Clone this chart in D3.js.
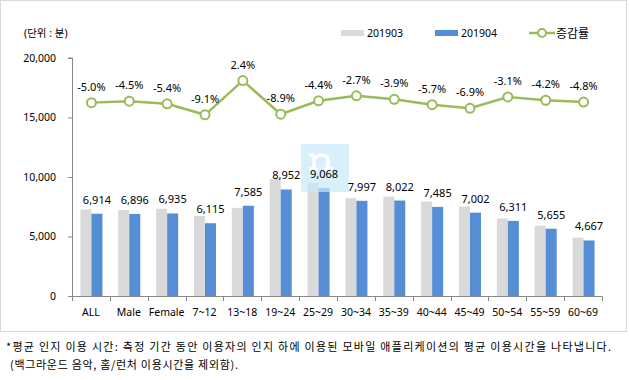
<!DOCTYPE html>
<html>
<head>
<meta charset="utf-8">
<script src="https://cdn.jsdelivr.net/npm/d3@7"></script>
<style>
  body { margin: 0; background: #fff; }
  text { font-family: "Noto Sans", "Noto Sans CJK KR", sans-serif; fill: #000; }
</style>
</head>
<body>
<div id="chart"></div>
<script>
const width = 630;
const height = 380;

// categories and values
const categories = ["ALL", "Male", "Female", "7~12", "13~18", "19~24", "25~29", "30~34", "35~39", "40~44", "45~49", "50~54", "55~59", "60~69"];
const values201903 = [7278, 7221, 7331, 6727, 7407, 9827, 9485, 8219, 8348, 7937, 7521, 6513, 5903, 4902];
const values201904 = [6914, 6896, 6935, 6115, 7585, 8952, 9068, 7997, 8022, 7485, 7002, 6311, 5655, 4667];
const changeRates = [-5.0, -4.5, -5.4, -9.1, 2.4, -8.9, -4.4, -2.7, -3.9, -5.7, -6.9, -3.1, -4.2, -4.8];
const yTicks = [0, 5000, 10000, 15000, 20000];
const seriesNames = ["201903", "201904", "증감률"];

const plot = { left: 72, right: 602, top: 58, bottom: 296 };

const svg = d3.select("#chart").append("svg")
    .attr("width", width)
    .attr("height", height);

// chart frame
svg.append("rect")
    .attr("x", 0.5).attr("y", 0.5)
    .attr("width", 626).attr("height", 331)
    .attr("fill", "none")
    .attr("stroke", "#d9d9d9");

const x = d3.scaleBand()
    .domain(categories)
    .range([plot.left, plot.right]);

const y = d3.scaleLinear()
    .domain([0, 20000])
    .range([plot.bottom, plot.top]);

// hidden secondary axis for the rate line
const y2 = d3.scaleLinear()
    .domain([-70, 10])
    .range([plot.bottom, plot.top]);

const barW = 11;
const cx = d => x(d) + x.bandwidth() / 2 + 0.5;

// y axis
const yAxis = svg.append("g")
    .attr("transform", `translate(${plot.left},0)`)
    .call(d3.axisLeft(y).tickValues(yTicks).tickSize(4).tickPadding(12).tickFormat(d3.format(",")));
yAxis.selectAll("path, line").attr("stroke", "#868686");
yAxis.select(".domain").attr("d", `M-4,${plot.top}H0.5V${plot.bottom}`);
yAxis.selectAll("text")
    .style("font-size", "10.5px")
    .style("font-family", "'Noto Sans', sans-serif");

// bars
svg.append("g").selectAll("rect")
    .data(categories)
    .join("rect")
    .attr("x", d => cx(d) - barW)
    .attr("y", (d, i) => y(values201903[i]))
    .attr("width", barW)
    .attr("height", (d, i) => y(0) - y(values201903[i]))
    .attr("fill", "#d9d9d9");

svg.append("g").selectAll("rect")
    .data(categories)
    .join("rect")
    .attr("x", d => cx(d))
    .attr("y", (d, i) => y(values201904[i]))
    .attr("width", barW)
    .attr("height", (d, i) => y(0) - y(values201904[i]))
    .attr("fill", "#558ed5");

// watermark logo over the plot (drawn as a shape)
const wm = svg.append("g").attr("opacity", 0.7);
wm.append("rect")
    .attr("x", 301).attr("y", 144)
    .attr("width", 48).attr("height", 48)
    .attr("fill", "#c9e9f8");
wm.append("path")
    .attr("d", "M314,155V169M314,160Q316,155 322,155Q328,155 328,161V169M309,155H314M309,169H318M324,169H333")
    .attr("fill", "none")
    .attr("stroke", "#ffffff")
    .attr("stroke-width", 3.5);

// value labels on the 201904 bars
svg.append("g").selectAll("text")
    .data(categories)
    .join("text")
    .attr("x", d => cx(d) + barW / 2)
    .attr("y", (d, i) => y(values201904[i]) - 10)
    .attr("text-anchor", "middle")
    .style("font-size", "11px")
    .text((d, i) => d3.format(",")(values201904[i]));

// x axis
const xAxis = svg.append("g")
    .attr("transform", `translate(0,${plot.bottom + 0.5})`)
    .call(d3.axisBottom(x).tickSize(0).tickPadding(12));
xAxis.select(".domain").attr("stroke", "#868686").attr("d", `M${plot.left},0H${plot.right}`);
xAxis.selectAll("text")
    .style("font-size", "10.5px");
svg.append("g").selectAll("line")
    .data(categories.concat(["end"]))
    .join("line")
    .attr("x1", (d, i) => i < categories.length ? Math.round(x(d)) + 0.5 : plot.right + 0.5)
    .attr("x2", (d, i) => i < categories.length ? Math.round(x(d)) + 0.5 : plot.right + 0.5)
    .attr("y1", plot.bottom + 0.5)
    .attr("y2", plot.bottom + 5)
    .attr("stroke", "#868686");

// rate line
const line = d3.line()
    .x(d => cx(d.c))
    .y(d => y2(d.v));
const ratePoints = categories.map((c, i) => ({ c, v: changeRates[i] }));

svg.append("path")
    .datum(ratePoints)
    .attr("d", line)
    .attr("fill", "none")
    .attr("stroke", "#9bbb59")
    .attr("stroke-width", 2.5);

svg.append("g").selectAll("circle")
    .data(ratePoints)
    .join("circle")
    .attr("cx", d => cx(d.c))
    .attr("cy", d => y2(d.v))
    .attr("r", 4.5)
    .attr("fill", "#fff")
    .attr("stroke", "#9bbb59")
    .attr("stroke-width", 2);

svg.append("g").selectAll("text")
    .data(ratePoints)
    .join("text")
    .attr("x", d => cx(d.c))
    .attr("y", d => y2(d.v) - 12)
    .attr("text-anchor", "middle")
    .style("font-size", "11px")
    .text(d => d.v.toFixed(1) + "%");

// unit label
svg.append("text")
    .attr("x", 24).attr("y", 37)
    .style("font-size", "10.5px")
    .text("(단위 : 분)");

// legend
const legend = svg.append("g");
legend.append("rect").attr("x", 341).attr("y", 30).attr("width", 23).attr("height", 6).attr("fill", "#d9d9d9");
legend.append("text").attr("x", 367).attr("y", 37).style("font-size", "10.5px").text(seriesNames[0]);
legend.append("rect").attr("x", 435).attr("y", 30).attr("width", 23).attr("height", 6).attr("fill", "#558ed5");
legend.append("text").attr("x", 461).attr("y", 37).style("font-size", "10.5px").text(seriesNames[1]);
legend.append("line").attr("x1", 529).attr("x2", 555).attr("y1", 33).attr("y2", 33)
    .attr("stroke", "#9bbb59").attr("stroke-width", 2.5);
legend.append("circle").attr("cx", 542).attr("cy", 33).attr("r", 4)
    .attr("fill", "#fff").attr("stroke", "#9bbb59").attr("stroke-width", 2);
legend.append("text").attr("x", 556).attr("y", 38).style("font-size", "12px").text(seriesNames[2]);

// footnote
svg.append("text")
    .attr("x", 6).attr("y", 351)
    .attr("textLength", 605)
    .attr("lengthAdjust", "spacing")
    .style("font-size", "11px")
    .style("font-family", "'Noto Sans CJK KR', sans-serif")
    .text("*평균 인지 이용 시간: 측정 기간 동안 이용자의 인지 하에 이용된 모바일 애플리케이션의 평균 이용시간을 나타냅니다.");
svg.append("text")
    .attr("x", 10).attr("y", 369)
    .attr("textLength", 228)
    .attr("lengthAdjust", "spacing")
    .style("font-size", "11px")
    .style("font-family", "'Noto Sans CJK KR', sans-serif")
    .text("(백그라운드 음악, 홈/런처 이용시간을 제외함).");
</script>
</body>
</html>
